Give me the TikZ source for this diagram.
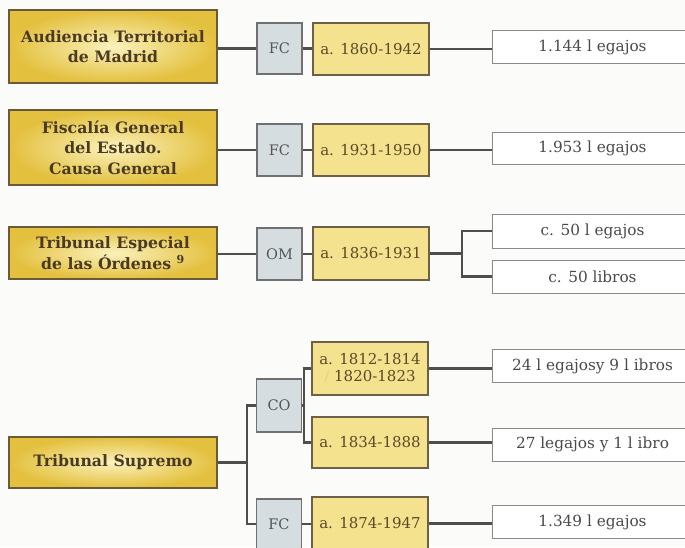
\documentclass[tikz,border=0pt]{standalone}
\usepackage{fontspec}
\setmainfont{DejaVu Serif}
\definecolor{bg}{HTML}{FBFBF9}
\definecolor{orgin}{HTML}{FBF2BC}
\definecolor{orgout}{HTML}{E3C03E}
\definecolor{orgborder}{HTML}{6B5A3A}
\definecolor{orgtext}{HTML}{4B3A22}
\definecolor{datefill}{HTML}{F5E28E}
\definecolor{dateborder}{HTML}{6E6048}
\definecolor{datetext}{HTML}{5A4A28}
\definecolor{codefill}{HTML}{D6DDE0}
\definecolor{codeborder}{HTML}{707070}
\definecolor{codetext}{HTML}{555555}
\definecolor{qtyborder}{HTML}{8A8A8A}
\definecolor{qtytext}{HTML}{4A4A4A}
\definecolor{conncolor}{HTML}{4E4E4E}
\definecolor{slashc}{HTML}{E8D47A}
\begin{document}
\begin{tikzpicture}[x=1pt,y=-1pt,
  org/.style={draw=orgborder, line width=1.2pt, inner color=orgin, outer color=orgout,
    minimum width=208pt, align=center, text=orgtext, inner sep=2pt,
    font=\bfseries\fontsize{15.7}{20.5}\selectfont},
  codebox/.style={draw=codeborder, fill=codefill, line width=1.2pt, minimum width=45pt,
    minimum height=52pt, inner sep=1pt, text=codetext, font=\fontsize{14.5}{17}\selectfont},
  datebox/.style={draw=dateborder, fill=datefill, line width=1.2pt, minimum width=116pt,
    minimum height=52pt, inner sep=2pt, align=center, text=datetext, font=\fontsize{15}{18}\selectfont},
  qty/.style={draw=qtyborder, fill=white, line width=1pt, minimum width=200pt,
    minimum height=33pt, anchor=west, text=qtytext, font=\fontsize{15.3}{18}\selectfont},
  conn/.style={draw=conncolor, line width=2.3pt, line join=miter}]
\useasboundingbox (0,0) rectangle (685,547);
\clip (0,0) rectangle (685,547);
\fill[bg] (0,0) rectangle (685,547);

% row 1
\node[org, minimum height=73pt] (org1) at (113,46.5) {Audiencia Territorial\\de Madrid};
\node[codebox, minimum height=51pt] (code1) at (279.5,48.5) {FC};
\node[datebox] (date1) at (371,49) {a. 1860-1942};
\node[qty] (qty1) at (492,47) {1.144 l egajos};

% row 2
\node[org, minimum height=75pt] (org2) at (113,147.5) {Fiscalía General\\del Estado.\\Causa General};
\node[codebox] (code2) at (279.5,150) {FC};
\node[datebox] (date2) at (371,150) {a. 1931-1950};
\node[qty, minimum height=32pt] (qty2) at (492,148.5) {1.953 l egajos};

% row 3
\node[org, minimum height=52pt] (org3) at (113,253) {Tribunal Especial\\de las Órdenes \textsuperscript{9}};
\node[codebox] (code3) at (279.5,254) {OM};
\node[datebox, minimum height=53pt] (date3) at (371,253.5) {a. 1836-1931};
\node[qty, minimum height=34pt] (qty3a) at (492,231) {c. 50 l egajos};
\node[qty] (qty3b) at (492,276.5) {c. 50 libros};
\coordinate (br3) at (462,253.5);

% row 4
\node[org, minimum height=51pt] (org4) at (113,462.5) {Tribunal Supremo};
\coordinate (tr4) at (247,462.5);
\node[codebox, minimum height=53pt] (code4a) at (279,405.5) {CO};
\node[codebox, minimum height=50pt] (code4b) at (279,524) {FC};
\coordinate (br4) at (304,405.5);
\node[datebox, minimum height=53pt, font=\fontsize{15}{17}\selectfont] (date4a) at (370,368.5) {a. 1812-1814\\{\color{slashc}/} 1820-1823};
\node[datebox, minimum height=51pt] (date4b) at (370,442.5) {a. 1834-1888};
\node[datebox, minimum height=53pt] (date4c) at (370,523.5) {a. 1874-1947};
\node[qty] (qty4a) at (492,366) {24 l egajosy 9 l ibros};
\node[qty] (qty4b) at (492,444.5) {27 legajos y 1 l ibro};
\node[qty] (qty4c) at (492,522) {1.349 l egajos};

% connectors row 1
\draw[conn] (code1.west -| org1.east) -- (code1.west);
\draw[conn] (code1.east) -- (code1.east -| date1.west);
\draw[conn] (date1.east) -- (date1.east -| qty1.west);
% row 2
\draw[conn] (code2.west -| org2.east) -- (code2.west);
\draw[conn] (code2.east) -- (code2.east -| date2.west);
\draw[conn] (date2.east) -- (date2.east -| qty2.west);
% row 3
\draw[conn] (code3.west -| org3.east) -- (code3.west);
\draw[conn] (code3.east) -- (code3.east -| date3.west);
\draw[conn] (date3.east) -- (br3);
\draw[conn] (qty3a.west) -| (br3) |- (qty3b.west);
% row 4
\draw[conn] (org4.east) -- (tr4);
\draw[conn] (code4a.west) -| (tr4) |- (code4b.west);
\draw[conn] (code4a.east) -- (br4);
\draw[conn] (date4a.west) -| (br4) |- (date4b.west);
\draw[conn] (code4b.east) -- (code4b.east -| date4c.west);
\draw[conn] (date4a.east) -- (date4a.east -| qty4a.west);
\draw[conn] (date4b.east) -- (date4b.east -| qty4b.west);
\draw[conn] (date4c.east) -- (date4c.east -| qty4c.west);
\end{tikzpicture}
\end{document}
